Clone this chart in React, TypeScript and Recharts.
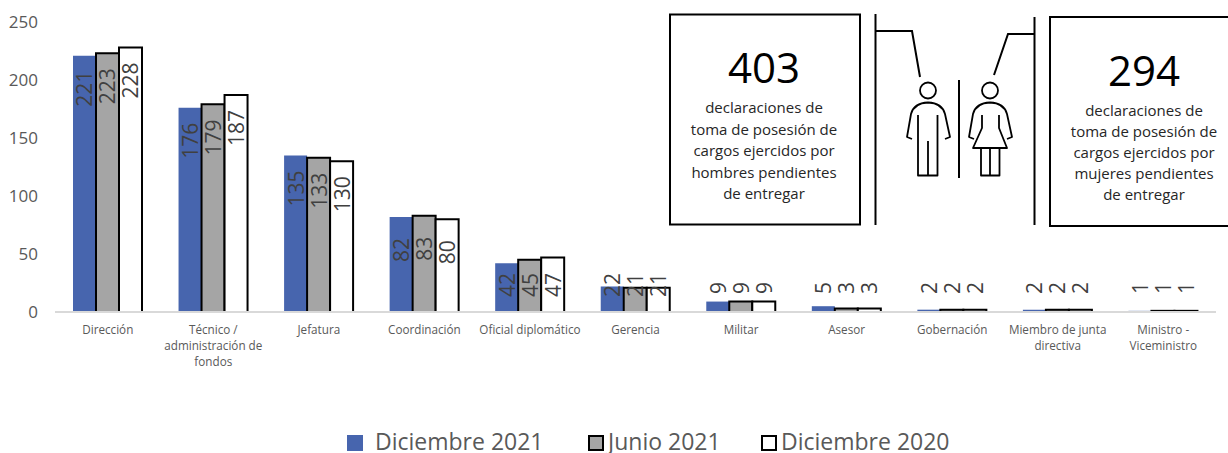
import React from 'react';
import { BarChart, Bar, XAxis, YAxis, Legend, LabelList } from 'recharts';

const categories = [
  'Dirección',
  'Técnico /\nadministración de\nfondos',
  'Jefatura',
  'Coordinación',
  'Oficial diplomático',
  'Gerencia',
  'Militar',
  'Asesor',
  'Gobernación',
  'Miembro de junta\ndirectiva',
  'Ministro -\nViceministro',
];
const dic2021 = [221, 176, 135, 82, 42, 22, 9, 5, 2, 2, 1];
const jun2021 = [223, 179, 133, 83, 45, 21, 9, 3, 2, 2, 1];
const dic2020 = [228, 187, 130, 80, 47, 21, 9, 3, 2, 2, 1];
const yTicks = [0, 50, 100, 150, 200, 250];

const chartData = categories.map((name, i) => ({
  name,
  dic2021: dic2021[i],
  jun2021: jun2021[i],
  dic2020: dic2020[i],
}));

const FONT = '"Open Sans", sans-serif';
const WIDTH = 1228;
const HEIGHT = 453;

const CategoryTick = ({ x, y, payload }: any) => (
  <text x={x} y={y} textAnchor="middle" fontFamily={FONT} fontSize={11.7} fill="#595959">
    {String(payload.value).split('\n').map((line, i) => (
      <tspan key={i} x={x} y={y + 14 + i * 16}>{line}</tspan>
    ))}
  </text>
);

// Excel puts the rotated labels inside the bar, but short bars push them up off the axis
const RotatedLabel = ({ x, y, width, value }: any) => {
  const cx = x + width / 2;
  const cy = Math.min(y + 33, value < 10 ? 288 : 285);
  return (
    <text
      x={cx}
      y={cy}
      transform={`rotate(-90 ${cx} ${cy})`}
      textAnchor="middle"
      dominantBaseline="central"
      fontFamily={FONT}
      fontSize={21}
      fill="#404040"
    >
      {value}
    </text>
  );
};

const legendOffsets = [347, 588, 761];

const ChartLegend = ({ payload }: any) => (
  <div>
    {(payload || []).map((item: any, i: number) => (
      <div key={item.value} style={{ position: 'absolute', left: legendOffsets[i], top: 433, height: 20, display: 'flex', alignItems: 'center', whiteSpace: 'nowrap' }}>
        <svg width={16} height={16} style={{ marginRight: i === 0 ? 12 : 4 }}>
          <rect
            x={1}
            y={1}
            width={14}
            height={14}
            fill={item.payload.fill}
            stroke={item.payload.stroke === 'none' ? item.payload.fill : item.payload.stroke}
            strokeWidth={2}
          />
        </svg>
        <span style={{ fontFamily: FONT, fontSize: 23, lineHeight: '20px', color: '#595959', position: 'relative', top: -2 }}>{item.value}</span>
      </div>
    ))}
  </div>
);

const Callouts = () => (
  <svg width={WIDTH} height={HEIGHT} style={{ position: 'absolute', left: 0, top: 0, pointerEvents: 'none' }}>
    <g fill="none" stroke="#000" strokeWidth={2}>
      <rect x={670} y={14.5} width={190} height={210} />
      <rect x={1050} y={17} width={190} height={209} />
      <path d="M875.5 14V225M875.5 31H912L920 77" />
      <path d="M1034.5 17V225M1034.5 34H1008L994 75" />
      <path d="M959 80V178" />
    </g>
    <g fill="none" stroke="#000" strokeWidth={1.8} strokeLinejoin="round">
      <ellipse cx={928} cy={90.5} rx={8} ry={8} />
      <path d="M912 139L907 137L911 114Q914 103 928 102.5Q942 103 945 114L950 137L945 139" />
      <path d="M918 115V175.5H937.5V115M928 141V175.5" />
      <ellipse cx={990} cy={90.5} rx={8} ry={8} />
      <path d="M974 139L969 137L973 114Q976 103 990 102.5Q1004 103 1007 114L1012 137L1007 139" />
      <path d="M982 115V128L973 148H1007L999 128V115M981 148V175.5H999.5V148M990 148V175.5" />
    </g>
    <g textAnchor="middle" fontFamily={FONT} fill="#262626">
      <text x={764} y={83} fontSize={42} fill="#000">403</text>
      <text x={1144} y={86} fontSize={42} fill="#000">294</text>
      {['declaraciones de', 'toma de posesión de', 'cargos ejercidos por', 'hombres pendientes', 'de entregar'].map((t, i) => (
        <text key={t} x={764} y={113 + i * 21.5} fontSize={15}>{t}</text>
      ))}
      {['declaraciones de', 'toma de posesión de', 'cargos ejercidos por', 'mujeres pendientes', 'de entregar'].map((t, i) => (
        <text key={t} x={1144} y={116 + i * 21} fontSize={15}>{t}</text>
      ))}
    </g>
  </svg>
);

const App: React.FC = () => {
  return (
    <div style={{ position: 'absolute', left: 0, top: 0, width: WIDTH, height: HEIGHT, background: '#fff' }}>
      <BarChart
        width={WIDTH}
        height={HEIGHT}
        data={chartData}
        margin={{ top: 22, right: 12, left: 0, bottom: 0 }}
        barCategoryGap={18}
        barGap={0}
      >
        <XAxis
          dataKey="name"
          interval={0}
          height={141}
          tick={<CategoryTick />}
          tickLine={false}
          axisLine={{ stroke: '#D9D9D9', strokeWidth: 2 }}
        />
        <YAxis
          width={55}
          domain={[0, 250]}
          ticks={yTicks}
          tick={{ fill: '#595959', fontSize: 17, fontFamily: FONT }}
          tickMargin={11}
          axisLine={false}
          tickLine={false}
        />
        <Legend
          content={<ChartLegend />}
          itemSorter={null}
          wrapperStyle={{ position: 'absolute', left: 0, top: 0, bottom: 'auto', width: WIDTH, height: 0 }}
        />
        <Bar dataKey="dic2021" name="Diciembre 2021" fill="#4765AE" stroke="none" isAnimationActive={false}>
          <LabelList dataKey="dic2021" content={<RotatedLabel />} />
        </Bar>
        <Bar dataKey="jun2021" name="Junio 2021" fill="#A5A5A5" stroke="#000" strokeWidth={2} isAnimationActive={false}>
          <LabelList dataKey="jun2021" content={<RotatedLabel />} />
        </Bar>
        <Bar dataKey="dic2020" name="Diciembre 2020" fill="#fff" stroke="#000" strokeWidth={2} isAnimationActive={false}>
          <LabelList dataKey="dic2020" content={<RotatedLabel />} />
        </Bar>
      </BarChart>
      <Callouts />
    </div>
  );
};

export default App;
